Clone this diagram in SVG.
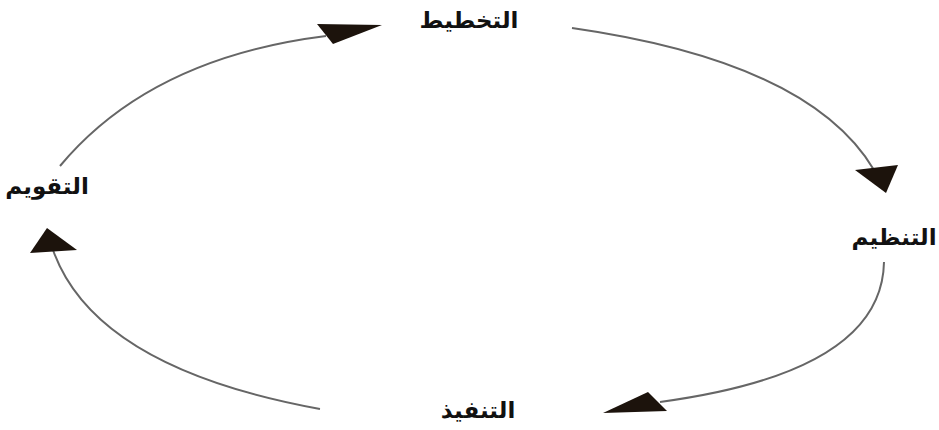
<svg xmlns="http://www.w3.org/2000/svg" width="939" height="430" viewBox="0 0 939 430">
<style>
.lbl{font-family:"DejaVu Sans","Liberation Sans",sans-serif;font-weight:bold;font-size:23px;fill:#111;text-anchor:middle;direction:rtl}
.c{fill:none;stroke:#666;stroke-width:2}
.h{fill:#1c130c}
</style>
<rect width="939" height="430" fill="#fff"/>
<g id="connectors">
<path class="c" d="M60,166 Q150,58 326,36"/>
<polygon class="h" points="317,24 382,25 333,44"/>
<path class="c" d="M572,28 Q810,62 874,170"/>
<polygon class="h" points="855,170 898,165 886,193"/>
<path class="c" d="M884,262 Q882,372 660,402"/>
<polygon class="h" points="603,413 648,392 667,411"/>
<path class="c" d="M320,409 Q95,368 53,250"/>
<polygon class="h" points="30,253 47,228 77,250"/>
</g>
<g id="n-planning"><text class="lbl" x="469" y="28">التخطيط</text></g>
<g id="n-organizing"><text class="lbl" x="894" y="245">التنظيم</text></g>
<g id="n-execution"><text class="lbl" x="478" y="418">التنفيذ</text></g>
<g id="n-evaluation"><text class="lbl" x="47" y="194">التقويم</text></g>
</svg>
